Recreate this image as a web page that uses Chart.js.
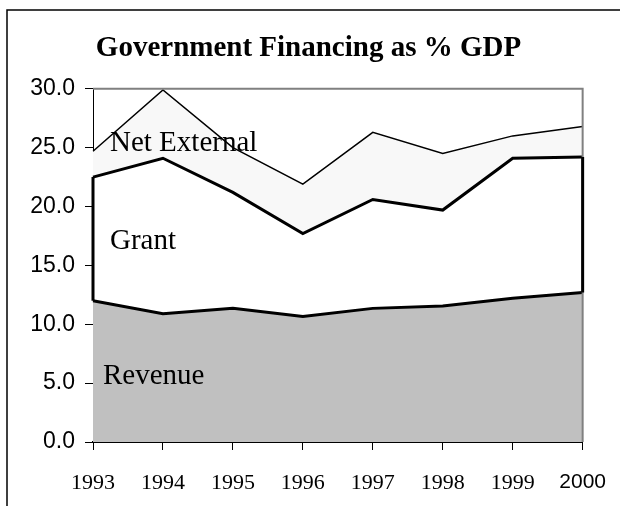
<!DOCTYPE html>
<html>
<head>
<meta charset="utf-8">
<title>Government Financing as % GDP</title>
<script src="https://cdn.jsdelivr.net/npm/chart.js"></script>
<style>
  html, body { margin: 0; padding: 0; background: #fff; }
  #wrap { width: 626px; height: 506px; }
</style>
</head>
<body>
<div id="wrap"><canvas id="chart" width="626" height="506"></canvas></div>
<script>
// values, % of GDP
const years = ['1993', '1994', '1995', '1996', '1997', '1998', '1999', '2000'];
const revenue = [12.0, 10.9, 11.35, 10.65, 11.35, 11.55, 12.2, 12.7];
const grant = [10.5, 13.2, 9.85, 7.05, 9.25, 8.15, 11.9, 11.5];
const netExternal = [2.2, 5.8, 3.8, 4.2, 5.7, 4.8, 1.9, 2.6];
const yTicks = [0, 5, 10, 15, 20, 25, 30];
const seriesNames = ['Revenue', 'Grant', 'Net External'];

// white page + outer frame
const framePlugin = {
  id: 'frame',
  beforeDraw(chart) {
    const c = chart.ctx;
    c.save();
    c.fillStyle = '#fff';
    c.fillRect(0, 0, chart.width, chart.height);
    c.strokeStyle = '#000';
    c.lineWidth = 1.5;
    c.beginPath();
    c.moveTo(7, chart.height);
    c.lineTo(7, 10);
    c.lineTo(620, 10);
    c.stroke();
    c.restore();
  }
};

// grey plot border (top / right) and the thick side edges of the Grant area
const plotPlugin = {
  id: 'plotExtras',
  afterDatasetsDraw(chart) {
    const c = chart.ctx;
    const a = chart.chartArea;
    c.save();
    c.strokeStyle = '#808080';
    c.lineWidth = 2;
    c.beginPath();
    c.moveTo(a.left, a.top);
    c.lineTo(a.right, a.top);
    c.lineTo(a.right, a.bottom);
    c.stroke();

    const rev = chart.getDatasetMeta(0).data;
    const gr = chart.getDatasetMeta(1).data;
    const last = gr.length - 1;
    c.strokeStyle = '#000';
    c.lineWidth = 3;
    c.beginPath();
    c.moveTo(gr[0].x, gr[0].y);
    c.lineTo(rev[0].x, rev[0].y);
    c.moveTo(gr[last].x, gr[last].y);
    c.lineTo(rev[last].x, rev[last].y);
    c.stroke();
    c.restore();
  },
  afterDraw(chart) {
    const c = chart.ctx;
    const x = chart.scales.x;
    const y = chart.scales.y;
    c.save();
    c.fillStyle = '#000';
    c.font = '29px "Liberation Serif"';
    c.textBaseline = 'middle';
    c.textAlign = 'left';
    const x0 = x.getPixelForValue(0);
    c.fillText(seriesNames[2], x0 + 17, y.getPixelForValue(25.0) - 4);
    c.fillText(seriesNames[1], x0 + 17, y.getPixelForValue(17.0));
    c.fillText(seriesNames[0], x0 + 10, y.getPixelForValue(5.6));
    c.restore();
  }
};

const chart = new Chart(document.getElementById('chart'), {
  type: 'line',
  data: {
    labels: years,
    datasets: [
      {
        label: seriesNames[0], data: revenue, fill: 'origin',
        backgroundColor: '#c0c0c0', borderColor: '#000', borderWidth: 3
      },
      {
        label: seriesNames[1], data: grant, fill: '-1',
        backgroundColor: '#ffffff', borderColor: '#000', borderWidth: 3
      },
      {
        label: seriesNames[2], data: netExternal, fill: '-1',
        backgroundColor: '#f8f8f8', borderColor: '#000', borderWidth: 1.5
      }
    ]
  },
  options: {
    responsive: false,
    animation: false,
    devicePixelRatio: 1,
    layout: { padding: { left: 30, right: 39, top: 0, bottom: 0 } },
    elements: {
      point: { radius: 0, hoverRadius: 0 },
      line: { tension: 0, borderJoinStyle: 'miter' }
    },
    plugins: {
      legend: { display: false },
      tooltip: { enabled: false },
      title: {
        display: true,
        text: 'Government Financing as % GDP',
        color: '#000',
        font: { family: 'Liberation Serif', size: 29, weight: 'bold' },
        padding: { top: 31, bottom: 23 }
      }
    },
    scales: {
      x: {
        z: 1,
        offset: false,
        grid: { display: true, drawOnChartArea: false, drawTicks: true, tickLength: 8, color: '#000' },
        border: { display: true, color: '#000', width: 2 },
        ticks: {
          color: '#000',
          padding: 20,
          maxRotation: 0,
          autoSkip: false,
          font: ctx => ctx.index === years.length - 1
            ? { family: 'Liberation Sans', size: 21 }
            : { family: 'Liberation Serif', size: 22 }
        },
        afterFit: s => { s.height = 64; }
      },
      y: {
        z: 1,
        stacked: true,
        min: 0,
        max: 30,
        afterBuildTicks: s => { s.ticks = yTicks.map(v => ({ value: v })); },
        grid: { display: true, drawOnChartArea: false, drawTicks: true, tickLength: 8, color: '#000' },
        border: { display: true, color: '#000', width: 1 },
        ticks: {
          color: '#000',
          padding: 10,
          font: { family: 'Liberation Sans', size: 23 },
          callback: v => Number(v).toFixed(1)
        },
        afterFit: s => { s.width = 63; }
      }
    }
  },
  plugins: [framePlugin, plotPlugin]
});
</script>
</body>
</html>
